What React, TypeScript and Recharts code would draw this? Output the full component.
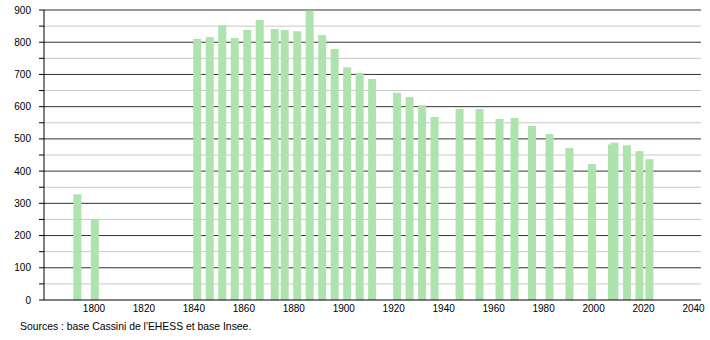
import { BarChart, Bar, XAxis, YAxis, CartesianGrid } from "recharts";

const years = [
  1793, 1800, 1841, 1846, 1851, 1856, 1861, 1866, 1872, 1876, 1881, 1886,
  1891, 1896, 1901, 1906, 1911, 1921, 1926, 1931, 1936, 1946, 1954, 1962,
  1968, 1975, 1982, 1990, 1999, 2007, 2008, 2013, 2018, 2022,
];
const population = [
  328, 248, 810, 816, 853, 813, 838, 869, 841, 838, 834, 898, 822, 779, 722,
  705, 686, 643, 630, 605, 568, 593, 593, 562, 565, 540, 515, 472, 422, 483,
  488, 480, 462, 437,
];
const xTicks = [1800, 1820, 1840, 1860, 1880, 1900, 1920, 1940, 1960, 1980, 2000, 2020, 2040];
const yTicks = [0, 50, 100, 150, 200, 250, 300, 350, 400, 450, 500, 550, 600, 650, 700, 750, 800, 850, 900];
const majorY = [100, 200, 300, 400, 500, 600, 700, 800, 900];
const minorY = [50, 150, 250, 350, 450, 550, 650, 750, 850];

const data = years.map((year, i) => ({ year, pop: population[i] }));

const font = "'Liberation Sans', Arial, sans-serif";

// fixed 8px bars centred on the year
function Slim(props: any) {
  const { x, y, width, height, fill } = props;
  if (!height) return null;
  const cx = x + width / 2 + 1;
  return <rect x={cx - 4} y={y} width={8} height={height} fill={fill} />;
}

export default function App() {
  return (
    <div style={{ position: "absolute", left: 0, top: 0, width: 710, height: 340, background: "#fff" }}>
      <BarChart
        width={710}
        height={340}
        data={data}
        margin={{ top: 10, right: 9, left: 0, bottom: 0 }}
      >
        <CartesianGrid horizontalValues={minorY} vertical={false} stroke="#c8c8c8" />
        <CartesianGrid horizontalValues={majorY} vertical={false} stroke="#333" />
        <XAxis
          dataKey="year"
          type="number"
          domain={[1780, 2043]}
          ticks={xTicks}
          allowDataOverflow
          height={40}
          tickLine={false}
          tickSize={3}
          tickMargin={2}
          stroke="#000"
          tick={{ fill: "#000", fontSize: 10, fontFamily: font }}
        />
        <YAxis
          domain={[0, 900]}
          ticks={yTicks}
          interval={0}
          width={44}
          tickSize={5}
          tickMargin={8}
          stroke="#000"
          tickFormatter={(v: number) => (v % 100 === 0 ? String(v) : "")}
          tick={{ fill: "#000", fontSize: 10, fontFamily: font }}
        />
        <Bar dataKey="pop" fill="#aee3ae" barSize={8} shape={<Slim />} isAnimationActive={false} />
      </BarChart>
      <div
        style={{
          position: "absolute",
          left: 20,
          top: 321,
          fontSize: 10.4,
          fontFamily: font,
          color: "#000",
          whiteSpace: "nowrap",
        }}
      >
        Sources : base Cassini de l'EHESS et base Insee.
      </div>
    </div>
  );
}
